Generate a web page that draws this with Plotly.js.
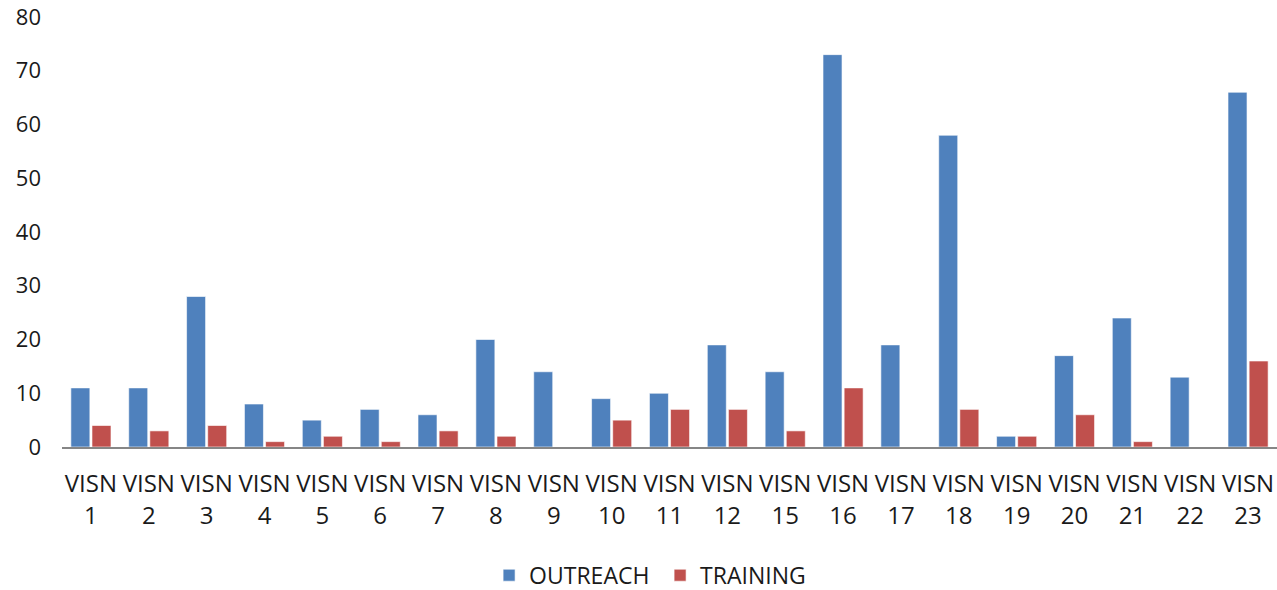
<!DOCTYPE html>
<html>
<head>
<meta charset="utf-8">
<script src="https://cdn.plot.ly/plotly-3.0.1.min.js"></script>
<style>html,body{margin:0;padding:0;background:#fff;}#chart{width:1277px;height:590px;}</style>
</head>
<body>
<div id="chart"></div>
<script>
const categories = ["VISN<br>1","VISN<br>2","VISN<br>3","VISN<br>4","VISN<br>5","VISN<br>6","VISN<br>7","VISN<br>8","VISN<br>9","VISN<br>10","VISN<br>11","VISN<br>12","VISN<br>15","VISN<br>16","VISN<br>17","VISN<br>18","VISN<br>19","VISN<br>20","VISN<br>21","VISN<br>22","VISN<br>23"];
const outreach = [11,11,28,8,5,7,6,20,14,9,10,19,14,73,19,58,2,17,24,13,66];
const training = [4,3,4,1,2,1,3,2,0,5,7,7,3,11,0,7,2,6,1,0,16];
const seriesNames = ["OUTREACH","TRAINING"];
const seriesColors = ["#4F81BD","#C0504D"];
const yTicks = [0,10,20,30,40,50,60,70,80];

const font = {family: "Open Sans, Liberation Sans, sans-serif", color: "#1a1a1a"};
const traces = [outreach, training].map((vals, i) => ({
  type: "bar",
  name: seriesNames[i],
  x: categories,
  y: vals,
  marker: {color: seriesColors[i], line: {color: "rgba(255,255,255,0.6)", width: 1}},
  hoverinfo: "x+y+name"
}));

const layout = {
  width: 1277, height: 590,
  margin: {l: 62, r: 0, t: 17, b: 143, autoexpand: false},
  paper_bgcolor: "#fff", plot_bgcolor: "#fff",
  font: font,
  barmode: "group",
  bargap: 0.27,
  bargroupgap: 0.1,
  showlegend: true,
  legend: {orientation: "h", xref: "container", yref: "container",
           x: 0.383, xanchor: "left", y: 0.025, yanchor: "middle",
           entrywidth: 126, entrywidthmode: "pixels",
           font: {family: font.family, size: 23, color: "#1a1a1a"}, itemwidth: 30, traceorder: "normal"},
  xaxis: {
    type: "category", automargin: false,
    showline: true, linecolor: "#868686", linewidth: 1.5,
    showgrid: false, zeroline: false, ticks: "",
    tickfont: {family: font.family, size: 24, color: "#1a1a1a"},
    ticklabelstandoff: 15,
    fixedrange: true
  },
  yaxis: {
    range: [0, 80], automargin: false,
    tickvals: yTicks,
    ticktext: yTicks.map(String),
    showline: false, showgrid: false, zeroline: false, ticks: "",
    tickfont: {family: font.family, size: 22, color: "#1a1a1a"},
    ticklabelstandoff: 20,
    fixedrange: true
  }
};

Plotly.newPlot("chart", traces, layout, {displayModeBar: false, staticPlot: true});
</script>
</body>
</html>
